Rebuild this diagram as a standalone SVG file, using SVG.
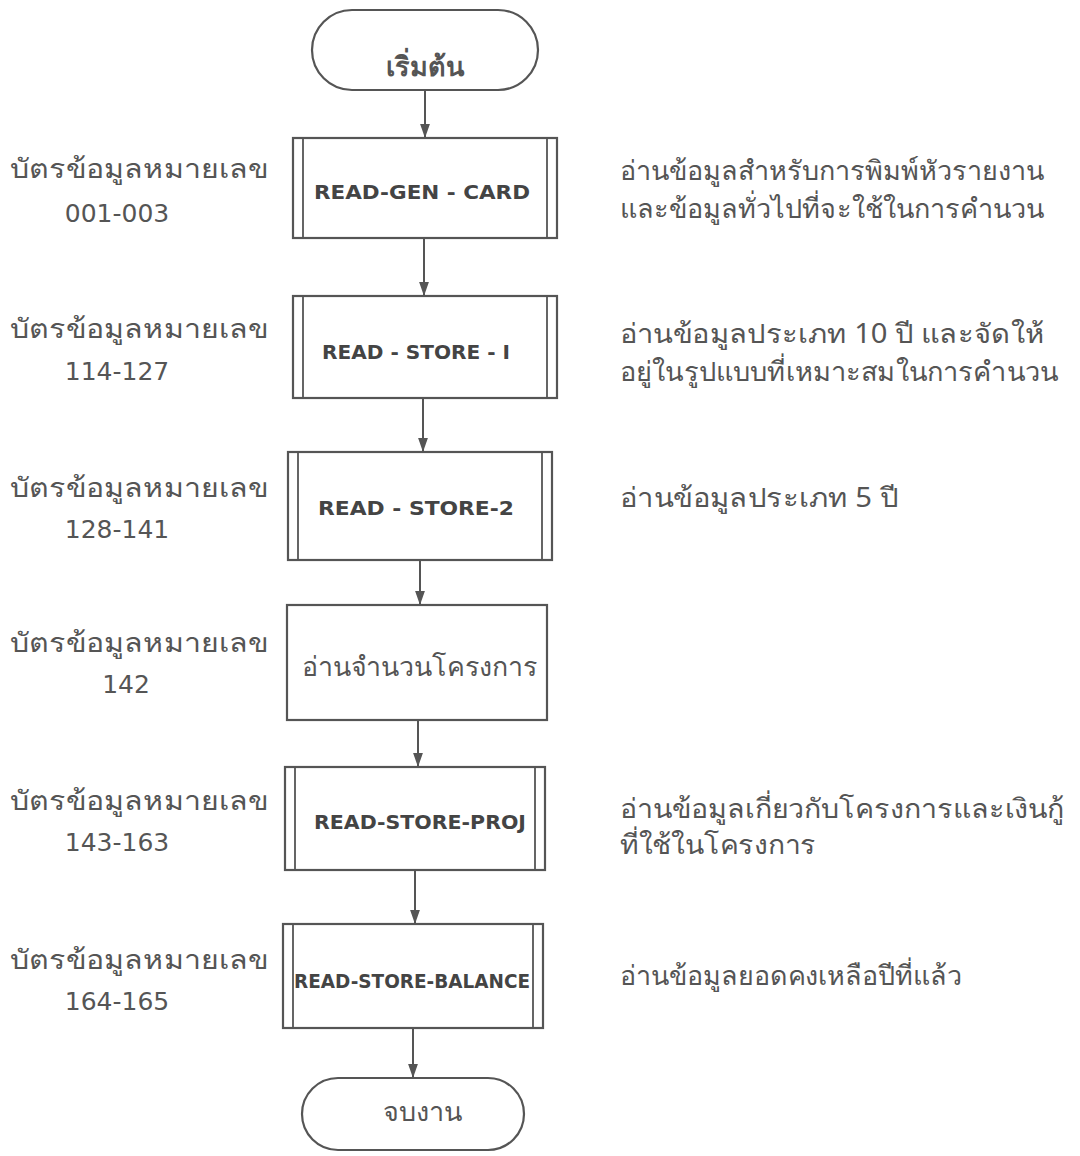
<svg xmlns="http://www.w3.org/2000/svg" width="1080" height="1156" viewBox="0 0 1080 1156">
<style>
.shape{fill:#fff;stroke:#555;stroke-width:2.2}
.inner{stroke:#555;stroke-width:1.8;fill:none}
.conn{stroke:#555;stroke-width:2;fill:none}
.en{font-family:"DejaVu Sans","Liberation Sans",sans-serif;font-weight:bold;font-size:20px;fill:#444;text-anchor:middle}
.th{font-family:"Noto Sans","DejaVu Sans","Liberation Serif",sans-serif;font-size:27px;fill:#555}
.num{font-family:"DejaVu Sans","Liberation Sans",sans-serif;font-size:25px;fill:#555;text-anchor:middle}
.c{text-anchor:middle}
</style>
<defs>
<marker id="ar" markerWidth="14" markerHeight="18" refX="20" refY="7" orient="auto" markerUnits="userSpaceOnUse" viewBox="0 0 20 14">
<path d="M0,0 L20,7 L0,14 Z" fill="#555"/>
</marker>
</defs>
<rect width="1080" height="1156" fill="#fff"/>
<g id="connectors">
<line class="conn" x1="425" y1="90" x2="425" y2="138" marker-end="url(#ar)"/>
<line class="conn" x1="424" y1="238" x2="424" y2="296" marker-end="url(#ar)"/>
<line class="conn" x1="423" y1="398" x2="423" y2="452" marker-end="url(#ar)"/>
<line class="conn" x1="420" y1="560" x2="420" y2="605" marker-end="url(#ar)"/>
<line class="conn" x1="418" y1="720" x2="418" y2="767" marker-end="url(#ar)"/>
<line class="conn" x1="415" y1="870" x2="415" y2="924" marker-end="url(#ar)"/>
<line class="conn" x1="413" y1="1028" x2="413" y2="1078" marker-end="url(#ar)"/>
</g>
<g id="start">
<rect class="shape" x="312" y="10" width="226" height="80" rx="40"/>
<text class="th c" x="425" y="76" font-weight="bold" font-size="24">เริ่มต้น</text>
</g>
<g id="read-gen-card">
<rect class="shape" x="293" y="138" width="264" height="100"/>
<line class="inner" x1="303" y1="138" x2="303" y2="238"/>
<line class="inner" x1="547" y1="138" x2="547" y2="238"/>
<text class="en" x="422" y="199" textLength="216" lengthAdjust="spacingAndGlyphs">READ-GEN - CARD</text>
</g>
<g id="read-store-1">
<rect class="shape" x="293" y="296" width="264" height="102"/>
<line class="inner" x1="303" y1="296" x2="303" y2="398"/>
<line class="inner" x1="547" y1="296" x2="547" y2="398"/>
<text class="en" x="416" y="359" textLength="188" lengthAdjust="spacingAndGlyphs">READ - STORE - I</text>
</g>
<g id="read-store-2">
<rect class="shape" x="288" y="452" width="264" height="108"/>
<line class="inner" x1="298" y1="452" x2="298" y2="560"/>
<line class="inner" x1="542" y1="452" x2="542" y2="560"/>
<text class="en" x="416" y="515" textLength="196" lengthAdjust="spacingAndGlyphs">READ - STORE-2</text>
</g>
<g id="read-count">
<rect class="shape" x="287" y="605" width="260" height="115"/>
<text class="th c" x="420" y="676" textLength="236" lengthAdjust="spacingAndGlyphs">อ่านจำนวนโครงการ</text>
</g>
<g id="read-store-proj">
<rect class="shape" x="285" y="767" width="260" height="103"/>
<line class="inner" x1="295" y1="767" x2="295" y2="870"/>
<line class="inner" x1="535" y1="767" x2="535" y2="870"/>
<text class="en" x="420" y="829" textLength="212" lengthAdjust="spacingAndGlyphs">READ-STORE-PROJ</text>
</g>
<g id="read-store-balance">
<rect class="shape" x="283" y="924" width="260" height="104"/>
<line class="inner" x1="293" y1="924" x2="293" y2="1028"/>
<line class="inner" x1="533" y1="924" x2="533" y2="1028"/>
<text class="en" x="412" y="988" textLength="236" lengthAdjust="spacingAndGlyphs">READ-STORE-BALANCE</text>
</g>
<g id="end">
<rect class="shape" x="302" y="1078" width="222" height="72" rx="36"/>
<text class="th c" x="422" y="1121">จบงาน</text>
</g>
<g id="left-labels">
<text class="th" x="10" y="178" textLength="258" lengthAdjust="spacingAndGlyphs">บัตรข้อมูลหมายเลข</text>
<text class="num" x="117" y="222">001-003</text>
<text class="th" x="10" y="338" textLength="258" lengthAdjust="spacingAndGlyphs">บัตรข้อมูลหมายเลข</text>
<text class="num" x="117" y="380">114-127</text>
<text class="th" x="10" y="497" textLength="258" lengthAdjust="spacingAndGlyphs">บัตรข้อมูลหมายเลข</text>
<text class="num" x="117" y="538">128-141</text>
<text class="th" x="10" y="652" textLength="258" lengthAdjust="spacingAndGlyphs">บัตรข้อมูลหมายเลข</text>
<text class="num" x="126" y="693">142</text>
<text class="th" x="10" y="810" textLength="258" lengthAdjust="spacingAndGlyphs">บัตรข้อมูลหมายเลข</text>
<text class="num" x="117" y="851">143-163</text>
<text class="th" x="10" y="969" textLength="258" lengthAdjust="spacingAndGlyphs">บัตรข้อมูลหมายเลข</text>
<text class="num" x="117" y="1010">164-165</text>
</g>
<g id="right-notes">
<text class="th" x="620" y="180" textLength="424" lengthAdjust="spacingAndGlyphs">อ่านข้อมูลสำหรับการพิมพ์หัวรายงาน</text>
<text class="th" x="620" y="218" textLength="424" lengthAdjust="spacingAndGlyphs">และข้อมูลทั่วไปที่จะใช้ในการคำนวน</text>
<text class="th" x="620" y="343" textLength="424" lengthAdjust="spacingAndGlyphs">อ่านข้อมูลประเภท 10 ปี และจัดให้</text>
<text class="th" x="620" y="381" textLength="438" lengthAdjust="spacingAndGlyphs">อยู่ในรูปแบบที่เหมาะสมในการคำนวน</text>
<text class="th" x="620" y="507" textLength="278" lengthAdjust="spacingAndGlyphs">อ่านข้อมูลประเภท 5 ปี</text>
<text class="th" x="620" y="818" textLength="444" lengthAdjust="spacingAndGlyphs">อ่านข้อมูลเกี่ยวกับโครงการและเงินกู้</text>
<text class="th" x="620" y="854" textLength="196" lengthAdjust="spacingAndGlyphs">ที่ใช้ในโครงการ</text>
<text class="th" x="620" y="985" textLength="342" lengthAdjust="spacingAndGlyphs">อ่านข้อมูลยอดคงเหลือปีที่แล้ว</text>
</g>
</svg>
